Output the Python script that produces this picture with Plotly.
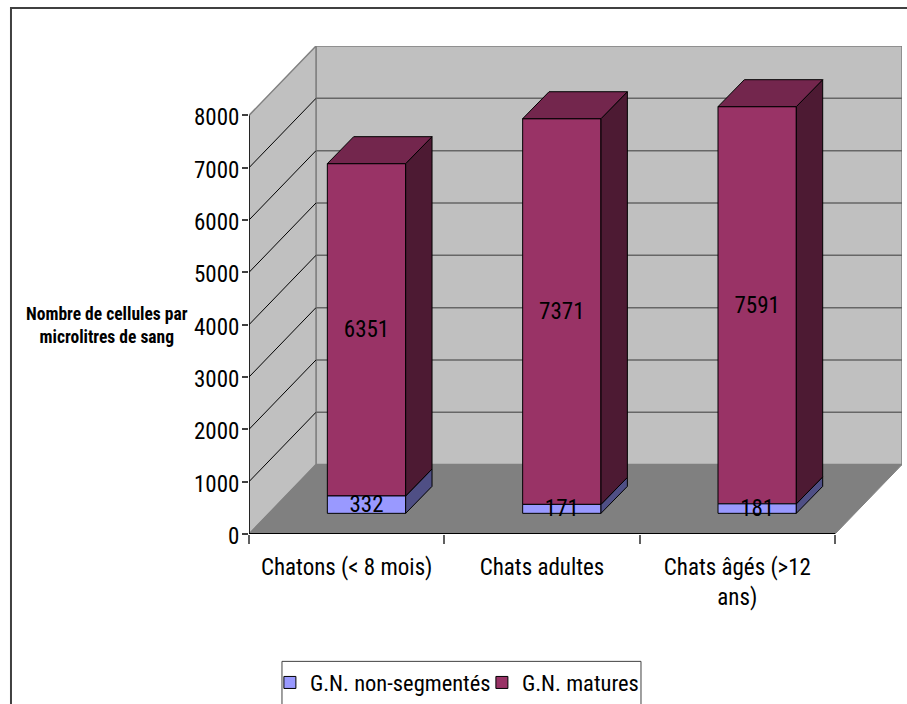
import plotly.graph_objects as go

# Chart content
categories = ["Chatons (< 8 mois)", "Chats adultes", "Chats âgés (>12<br>ans)"]
non_segmentes = [332, 171, 181]
matures = [6351, 7371, 7591]
series_names = ["G.N. non-segmentés", "G.N. matures"]
y_ticks = [0, 1000, 2000, 3000, 4000, 5000, 6000, 7000, 8000]
y_title = "Nombre de cellules par<br>microlitres de sang"

# Oblique projection, expressed in axis units
WALL_DX = 0.343
WALL_DY = 1326
BAR_SHIFT_Y = 395
BAR_LEFT = 0.401
BAR_WIDTH = 0.401
BAR_DX = 0.135
BAR_DY = 515
Y_MAX = y_ticks[-1]
N = len(categories)

FONT = "Roboto Condensed, Liberation Sans, Arial, sans-serif"
TEXT_SIZE = 23
fig = go.Figure()

base_low = [BAR_SHIFT_Y] * N
base_high = [BAR_SHIFT_Y + v for v in non_segmentes]
top_high = [b + v for b, v in zip(base_high, matures)]
lefts = [i + BAR_LEFT for i in range(N)]
rights = [x + BAR_WIDTH for x in lefts]
centers = [x + BAR_WIDTH / 2 for x in lefts]


def add_front(name, values, base, color):
    fig.add_trace(go.Bar(
        x=centers, y=values, base=base, width=BAR_WIDTH, name=name,
        marker=dict(color=color, line=dict(color="#000000", width=1)),
        text=[str(v) for v in values], textposition="inside",
        insidetextanchor="middle", textangle=0, constraintext="none",
        textfont=dict(family=FONT, size=TEXT_SIZE, color="#000000"),
        cliponaxis=False, hoverinfo="skip",
    ))


def add_faces(polys, color):
    xs, ys = [], []
    for poly in polys:
        xs += [p[0] for p in poly] + [poly[0][0], None]
        ys += [p[1] for p in poly] + [poly[0][1], None]
    fig.add_trace(go.Scatter(
        x=xs, y=ys, mode="lines", fill="toself", fillcolor=color,
        line=dict(color="#000000", width=1), showlegend=False, hoverinfo="skip",
    ))


# The lower segment goes last so its short labels stay on top of the upper one
add_front(series_names[1], matures, base_high, "#993366")
add_front(series_names[0], non_segmentes, base_low, "#9999FF")

# Side faces of both segments, then the lid of the stack
add_faces([[(r, b), (r + BAR_DX, b + BAR_DY), (r + BAR_DX, t + BAR_DY), (r, t)]
           for r, b, t in zip(rights, base_low, base_high)], "#4F4F85")
add_faces([[(r, b), (r + BAR_DX, b + BAR_DY), (r + BAR_DX, t + BAR_DY), (r, t)]
           for r, b, t in zip(rights, base_high, top_high)], "#4D1A33")
add_faces([[(l, t), (r, t), (r + BAR_DX, t + BAR_DY), (l + BAR_DX, t + BAR_DY)]
           for l, r, t in zip(lefts, rights, top_high)], "#73264D")

# Walls and floor sit under the traces
shapes = []


def poly_shape(points, fill, line_color, width=1):
    path = "M " + " L ".join(f"{x},{y}" for x, y in points) + " Z"
    shapes.append(dict(type="path", path=path, xref="x", yref="y", layer="below",
                       fillcolor=fill, line=dict(color=line_color, width=width)))


def line_shape(x0, y0, x1, y1, color, width=1):
    shapes.append(dict(type="line", x0=x0, y0=y0, x1=x1, y1=y1, xref="x", yref="y",
                       layer="below", line=dict(color=color, width=width)))


poly_shape([(WALL_DX, WALL_DY), (N + WALL_DX, WALL_DY),
            (N + WALL_DX, Y_MAX + WALL_DY), (WALL_DX, Y_MAX + WALL_DY)], "#C0C0C0", "#808080", 1.5)
poly_shape([(0, 0), (WALL_DX, WALL_DY), (WALL_DX, Y_MAX + WALL_DY), (0, Y_MAX)], "#C0C0C0", "#808080", 1.5)
poly_shape([(0, 0), (N, 0), (N + WALL_DX, WALL_DY), (WALL_DX, WALL_DY)], "#808080", "#808080", 1)
for t in y_ticks[1:-1]:
    line_shape(0, t, WALL_DX, t + WALL_DY, "#000000", 1)
    line_shape(WALL_DX, t + WALL_DY, N + WALL_DX, t + WALL_DY, "#666666", 1.5)
line_shape(0, 0, 0, Y_MAX, "#000000", 1.5)
line_shape(0, 0, N, 0, "#000000", 2)

# Outer chart frame, running off the right and bottom of the page
shapes.append(dict(type="rect", xref="paper", yref="paper", layer="below",
                   x0=-0.3645, y0=1.0778, x1=1.2, y1=-0.5,
                   fillcolor="rgba(0,0,0,0)", line=dict(color="#404040", width=2)))
# Legend frame, also cut by the bottom of the page
shapes.append(dict(type="rect", xref="paper", yref="paper", layer="below",
                   x0=0.0505, y0=-0.261, x1=0.6003, y1=-0.5,
                   fillcolor="rgba(0,0,0,0)", line=dict(color="#404040", width=1)))

fig.update_layout(
    width=907, height=704, autosize=False,
    margin=dict(l=249, r=5, t=46, b=169.5, autoexpand=False),
    paper_bgcolor="#FFFFFF", plot_bgcolor="#FFFFFF",
    barmode="overlay",
    font=dict(family=FONT, size=TEXT_SIZE, color="#000000"),
    shapes=shapes,
    xaxis=dict(
        range=[0, N + WALL_DX], showgrid=False, zeroline=False, showline=False,
        tickmode="array", tickvals=[i + 0.5 for i in range(N)], ticktext=categories,
        ticks="outside", ticklen=12, tickcolor="rgba(0,0,0,0)", tickangle=0,
        tickfont=dict(family=FONT, size=TEXT_SIZE),
        minor=dict(ticks="outside", tickmode="array", tickvals=list(range(N + 1)),
                   ticklen=9, tickcolor="#606060", tickwidth=1.5, showgrid=False),
    ),
    yaxis=dict(
        range=[0, Y_MAX + WALL_DY], showgrid=False, zeroline=False, showline=False,
        tickmode="array", tickvals=y_ticks, ticks="outside", ticklen=6,
        ticklabelstandoff=-2, ticklabelshift=2,
        tickcolor="#404040", tickwidth=1.5, tickfont=dict(family=FONT, size=TEXT_SIZE),
    ),
    legend=dict(
        orientation="h", x=0.032, y=-0.2609, xanchor="left", yanchor="top",
        borderwidth=0, bgcolor="rgba(0,0,0,0)",
        font=dict(family=FONT, size=22.5), traceorder="reversed",
        entrywidth=167, entrywidthmode="pixels",
    ),
    annotations=[dict(
        text=f"<b>{y_title}</b>", xref="paper", yref="paper", x=-0.2167, y=0.427,
        showarrow=False, align="center", xanchor="center", yanchor="middle",
        font=dict(family=FONT, size=17.5, color="#000000"),
    )],
)
fig.write_html("out.html")
